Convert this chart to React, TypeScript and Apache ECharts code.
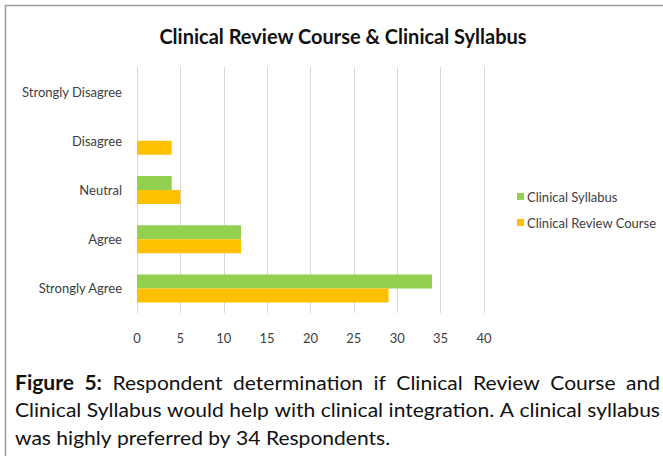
import React, { useEffect, useRef } from "react";
import * as echarts from "echarts";

const categories = ["Strongly Agree", "Agree", "Neutral", "Disagree", "Strongly Disagree"];
const reviewCourse = [29, 12, 5, 4, 0];
const syllabus = [34, 12, 4, 0, 0];
const xTicks = { min: 0, max: 40, interval: 5 };
const titleText = "Clinical Review Course & Clinical Syllabus";
const captionLines: { words: { t: string; b?: boolean }[]; justify: boolean }[] = [
  {
    words: [
      { t: "Figure", b: true }, { t: "5:", b: true }, { t: "Respondent" }, { t: "determination" },
      { t: "if" }, { t: "Clinical" }, { t: "Review" }, { t: "Course" }, { t: "and" },
    ],
    justify: true,
  },
  {
    words: "Clinical Syllabus would help with clinical integration. A clinical syllabus"
      .split(" ").map((t) => ({ t })),
    justify: true,
  },
  { words: "was highly preferred by 34 Respondents.".split(" ").map((t) => ({ t })), justify: false },
];

const FONT = "Lato, 'Open Sans', sans-serif";

export default function App() {
  const ref = useRef<HTMLDivElement>(null);
  useEffect(() => {
    if (!ref.current) return;
    const chart = echarts.init(ref.current, null, { renderer: "svg" });

    // caption layout: justified lines, horizontally stretched so the longest line fills the width
    const left = 15;
    const right = 660;
    const W = right - left;
    const fs = 20;
    const span = document.createElement("span");
    span.style.position = "absolute";
    span.style.visibility = "hidden";
    span.style.whiteSpace = "pre";
    span.style.fontFamily = "Lato";
    span.style.fontSize = fs + "px";
    document.body.appendChild(span);
    const measure = (t: string, b: boolean | undefined) => {
      span.style.fontWeight = b ? "bold" : "normal";
      span.textContent = t;
      return span.getBoundingClientRect().width;
    };
    const natural = (line: typeof captionLines[number]) => {
      const sp = measure(" ", false);
      return line.words.reduce((s, w) => s + measure(w.t, w.b), 0) + sp * (line.words.length - 1);
    };
    const maxNat = Math.max(...captionLines.map((l) => natural(l)));
    const sx = (W - 1) / maxNat;
    const layouts = captionLines.map((line) => {
      const widths = line.words.map((w) => measure(w.t, w.b) * sx);
      const sum = widths.reduce((a, b) => a + b, 0);
      const gap = line.justify
        ? (W - sum) / (line.words.length - 1)
        : measure(" ", false) * sx;
      return { widths, gap };
    });
    document.body.removeChild(span);

    const lineYs = [382, 409.5, 437];
    const captionEls: any[] = [];
    captionLines.forEach((line, li) => {
      const { widths, gap } = layouts[li];
      let x = left;
      line.words.forEach((w, i) => {
        captionEls.push({
          type: "text",
          x,
          y: lineYs[li],
          scaleX: sx,
          style: {
            text: w.t,
            fontFamily: "Lato",
            fontSize: fs,
            fontWeight: w.b ? "bold" : "normal",
            fill: "#111",
            verticalAlign: "middle",
          },
        });
        x += widths[i] + gap;
      });
    });

    chart.setOption({
      animation: false,
      title: {
        text: titleText,
        left: 338,
        textAlign: "center",
        top: 21,
        textStyle: { fontFamily: FONT, fontSize: 20, fontWeight: "bold", color: "#111" },
      },
      legend: {
        orient: "vertical",
        left: 512,
        top: 185,
        itemWidth: 7,
        itemHeight: 7,
        itemGap: 13,
        icon: "rect",
        data: ["Clinical Syllabus", "Clinical Review Course"],
        textStyle: { fontFamily: FONT, fontSize: 13, color: "#404040", padding: [0, 0, 0, -2] },
      },
      grid: { left: 137, right: 179, top: 67, bottom: 143, containLabel: false },
      xAxis: {
        type: "value",
        min: xTicks.min,
        max: xTicks.max,
        interval: xTicks.interval,
        axisLine: { show: false },
        axisTick: { show: false },
        splitLine: { show: true, lineStyle: { color: "#d9d9d9", width: 1 } },
        axisLabel: { margin: 18, fontFamily: FONT, fontSize: 13, color: "#404040" },
      },
      yAxis: {
        type: "category",
        data: categories,
        axisLine: { show: false },
        axisTick: { show: false },
        splitLine: { show: false },
        axisLabel: { margin: 15, fontFamily: FONT, fontSize: 13, color: "#404040" },
      },
      series: [
        {
          name: "Clinical Syllabus",
          type: "bar",
          data: syllabus,
          barWidth: 14,
          barGap: "0%",
          itemStyle: { color: "#92D050" },
        },
        {
          name: "Clinical Review Course",
          type: "bar",
          data: reviewCourse,
          barWidth: 14,
          barGap: "0%",
          itemStyle: { color: "#FFC000" },
        },
      ],
      graphic: [
        {
          type: "line",
          shape: { x1: 5, y1: 5.5, x2: 663, y2: 5.5 },
          style: { stroke: "#9a9a9a", lineWidth: 1.5 },
        },
        {
          type: "line",
          shape: { x1: 5.5, y1: 5, x2: 5.5, y2: 456 },
          style: { stroke: "#9a9a9a", lineWidth: 1.5 },
        },
        ...captionEls,
      ],
    });
    return () => chart.dispose();
  }, []);
  return (
    <div
      ref={ref}
      style={{ position: "absolute", left: 0, top: 0, width: 663, height: 456, background: "#fff" }}
    />
  );
}
